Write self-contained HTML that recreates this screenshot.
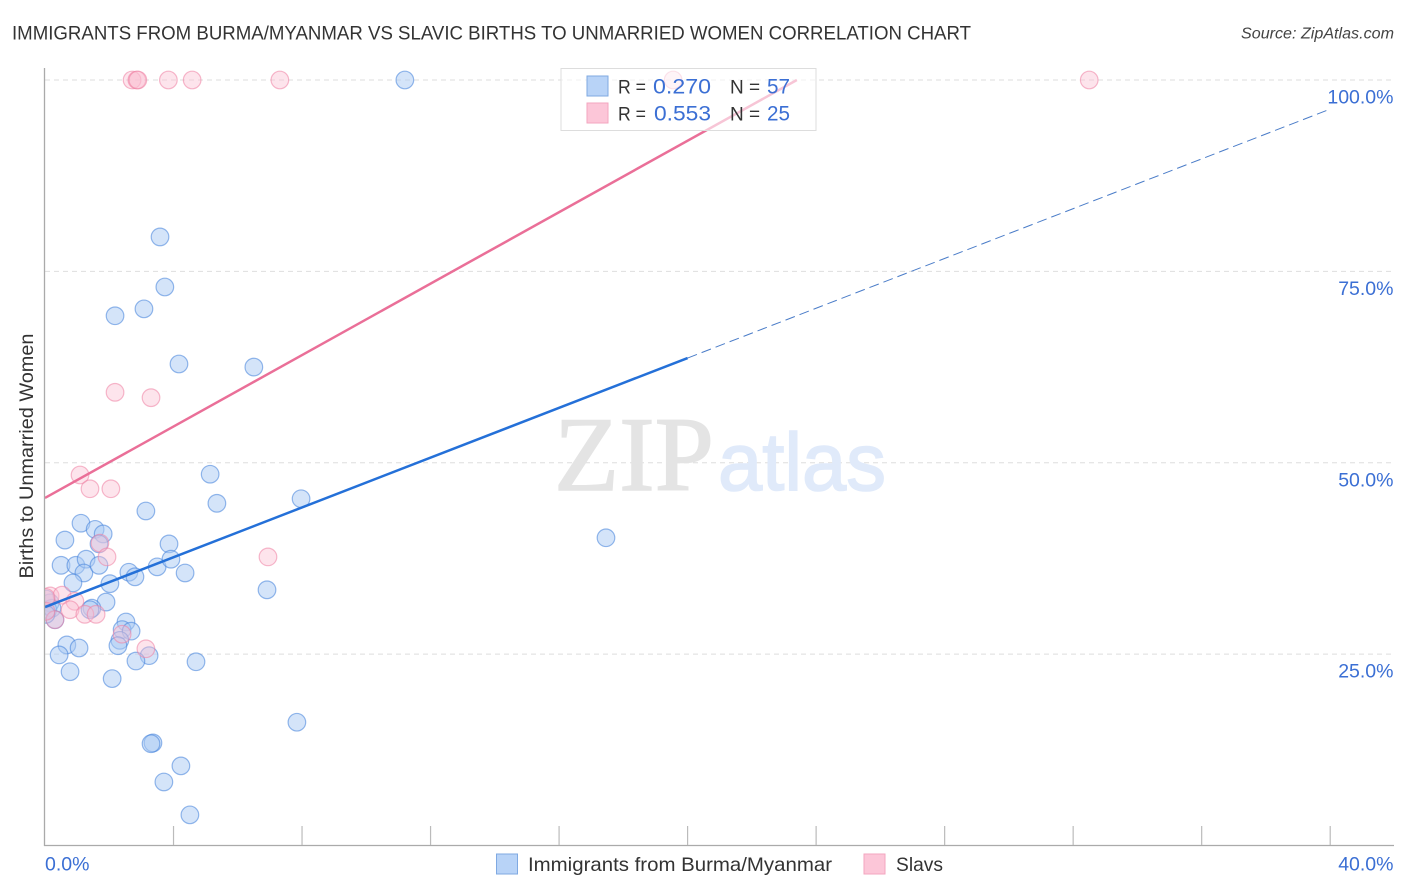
<!DOCTYPE html>
<html>
<head>
<meta charset="utf-8">
<style>
html,body{margin:0;padding:0;background:#fff;}
#wrap{position:relative;width:1406px;height:892px;overflow:hidden;}
svg{display:block;font-family:"Liberation Sans",sans-serif;}
</style>
</head>
<body>
<div id="wrap">
<svg id="chart" width="1406" height="892" viewBox="0 0 1406 892">
  <defs><clipPath id="plot-clip"><rect x="44.5" y="60" width="1350" height="786"/></clipPath></defs>
  <text x="12" y="39.5" font-size="19.5" fill="#333" textLength="959" lengthAdjust="spacingAndGlyphs">IMMIGRANTS FROM BURMA/MYANMAR VS SLAVIC BIRTHS TO UNMARRIED WOMEN CORRELATION CHART</text>
  <text x="1394" y="38.5" font-size="15.5" font-style="italic" fill="#444" text-anchor="end" textLength="153" lengthAdjust="spacingAndGlyphs">Source: ZipAtlas.com</text>
  <g id="grid"></g>
  <g>
    <text x="554" y="490" font-family="'Liberation Serif',serif" font-size="106" fill="#e4e4e4" stroke="#e4e4e4" stroke-width="1.4" textLength="160" lengthAdjust="spacingAndGlyphs">ZIP</text>
    <text x="718" y="490" font-size="82" fill="#e0eafa" stroke="#e0eafa" stroke-width="1.6" textLength="168" lengthAdjust="spacingAndGlyphs">atlas</text>
  </g>
  <g clip-path="url(#plot-clip)">
    <g id="points-blue"></g>
    <g id="points-pink"></g>
  </g>
  <g id="lines"></g>
  <g id="axes"></g>
  <text transform="translate(33,456) rotate(-90)" font-size="19" fill="#333" text-anchor="middle" textLength="245" lengthAdjust="spacingAndGlyphs">Births to Unmarried Women</text>
  <g>
    <rect x="561" y="68.5" width="255" height="62" fill="#fff" fill-opacity="0.6" stroke="#ddd"/>
    <rect x="587" y="76" width="21" height="20" fill="#b8d3f7" stroke="#7fa9e2"/>
    <rect x="587" y="103" width="21" height="20" fill="#fcc6d8" stroke="#f3a6bf"/>
    <text x="618" y="93.5" font-size="19" fill="#333" textLength="28" lengthAdjust="spacingAndGlyphs">R =</text>
    <text x="653" y="93.5" font-size="21" fill="#3b6fd4" textLength="58" lengthAdjust="spacingAndGlyphs">0.270</text>
    <text x="730" y="93.5" font-size="19" fill="#333">N =</text>
    <text x="767" y="93.5" font-size="21" fill="#3b6fd4" textLength="23" lengthAdjust="spacingAndGlyphs">57</text>
    <text x="618" y="120.5" font-size="19" fill="#333" textLength="28" lengthAdjust="spacingAndGlyphs">R =</text>
    <text x="654" y="120.5" font-size="21" fill="#3b6fd4" textLength="57" lengthAdjust="spacingAndGlyphs">0.553</text>
    <text x="730" y="120.5" font-size="19" fill="#333">N =</text>
    <text x="767" y="120.5" font-size="21" fill="#3b6fd4" textLength="23" lengthAdjust="spacingAndGlyphs">25</text>
  </g>
  <g>
    <rect x="496.5" y="854" width="21" height="20" fill="#b8d3f7" stroke="#7fa9e2"/>
    <text x="528" y="871" font-size="19.5" fill="#333" textLength="304" lengthAdjust="spacingAndGlyphs">Immigrants from Burma/Myanmar</text>
    <rect x="864" y="854" width="21" height="20" fill="#fcc6d8" stroke="#f3a6bf"/>
    <text x="896" y="871" font-size="19.5" fill="#333" textLength="47" lengthAdjust="spacingAndGlyphs">Slavs</text>
  </g>
</svg>
</div>
<script>
const blueX = [11.2,3.58,3.73,3.08,2.18,4.17,6.5,5.14,5.35,7.97,3.14,1.12,1.56,1.81,1.68,0.62,3.86,17.46,0.5,0.96,1.28,1.21,1.68,0.87,2.61,2.8,3.49,3.92,4.36,2.02,6.91,1.9,1.46,1.4,0.16,0.09,0.22,0.31,2.52,2.4,2.68,2.33,2.27,0.68,1.06,0.44,3.24,2.83,4.7,0.78,2.09,7.84,3.36,3.3,4.23,3.7,4.51,0.03,0.03];
const blueY = [100,79.5,72.96,70.1,69.2,62.9,62.5,48.5,44.7,45.3,43.7,42.1,41.3,40.7,39.4,39.9,39.4,40.2,36.6,36.6,37.4,35.6,36.6,34.3,35.7,35.1,36.4,37.4,35.6,34.2,33.4,31.8,31.0,30.8,31.7,30.8,31.0,29.5,29.2,28.2,28,26.8,26.1,26.2,25.8,24.9,24.8,24.1,24,22.7,21.8,16.1,13.4,13.3,10.4,8.3,4,32.2,30.2];
const pinkX = [2.71,2.86,2.89,3.84,4.58,7.31,19.55,32.5,2.18,3.3,1.09,1.4,2.05,1.71,1.93,6.94,3.14,2.4,0.16,0.53,0.93,0.78,1.24,1.59,0.31,0.03,0.03];
const pinkY = [100,100,100,100,100,100,100,100,59.2,58.5,48.4,46.6,46.6,39.5,37.7,37.7,25.7,27.6,32.6,32.7,31.9,30.8,30.2,30.2,29.5,32.4,30.6];
const blueLineXs = [0,20,40];
const blueLineYs = [31.15,63.68,96.2];
const pinkLineXs = [0,23.4];
const pinkLineYs = [45.4,100];
const yTicks = [25,50,75,100];
const yTickLabels = ["25.0%","50.0%","75.0%","100.0%"];
const xTicks = [4,8,12,16,20,24,28,32,36,40];
const xEndTicks = [0,40];
const xEndLabels = ["0.0%","40.0%"];

const NS = "http://www.w3.org/2000/svg";
function sx(v){ return 45 + v * 32.13; }
function sy(v){ return 845.5 - v * 7.655; }
function mk(parent, tag, attrs){
  const el = document.createElementNS(NS, tag);
  for (const k in attrs) el.setAttribute(k, attrs[k]);
  document.getElementById(parent).appendChild(el);
  return el;
}

yTicks.forEach(function(v, i){
  const g = mk("grid", "line", {x1:45, x2:1393, y1:sy(v), y2:sy(v), stroke:"#dedede", "stroke-width":1, "stroke-dasharray":"5 4"});
  
  
  const t = mk("axes", "text", {x:1393.5, y:sy(v)+23.5, "font-size":19.5, fill:"#3b6fd4", "text-anchor":"end"});
  t.textContent = yTickLabels[i];
  
  
});

blueX.forEach(function(v, i){
  const c = mk("points-blue", "circle", {cx:sx(v), cy:sy(blueY[i]), r:8.8, fill:"#a9c9f3", "fill-opacity":0.5, stroke:"#3f7fdb", "stroke-opacity":0.55, "stroke-width":1.2});
  
  
});
pinkX.forEach(function(v, i){
  const c = mk("points-pink", "circle", {cx:sx(v), cy:sy(pinkY[i]), r:8.8, fill:"#fbbfd2", "fill-opacity":0.42, stroke:"#ee7fa3", "stroke-opacity":0.55, "stroke-width":1.2});
  
  
});

const pinkTrend = mk("lines", "line", {x1:sx(pinkLineXs[0]), y1:sy(pinkLineYs[0]), x2:sx(pinkLineXs[1]), y2:sy(pinkLineYs[1]), stroke:"#ea6f98", "stroke-width":2.5});


const blueTrend = mk("lines", "line", {x1:sx(blueLineXs[0]), y1:sy(blueLineYs[0]), x2:sx(blueLineXs[1]), y2:sy(blueLineYs[1]), stroke:"#2470d8", "stroke-width":2.5});


const blueDash = mk("lines", "line", {x1:sx(blueLineXs[1]), y1:sy(blueLineYs[1]), x2:sx(blueLineXs[2]), y2:sy(blueLineYs[2]), stroke:"#4a7cc8", "stroke-width":1, "stroke-dasharray":"10 5"});



const yAxis = mk("axes", "line", {x1:44.5, x2:44.5, y1:68, y2:846, stroke:"#aaa", "stroke-width":1.3});


const xAxis = mk("axes", "line", {x1:44, x2:1394, y1:845.5, y2:845.5, stroke:"#aaa", "stroke-width":1.3});


xTicks.forEach(function(v){
  const t = mk("axes", "line", {x1:sx(v), x2:sx(v), y1:826, y2:845, stroke:"#bbb", "stroke-width":1.2});
  
  
});
xEndTicks.forEach(function(v, i){
  const t = mk("axes", "text", {x:i === 0 ? sx(v) : 1393.5, y:870.5, "font-size":19.5, fill:"#3b6fd4", "text-anchor":i === 0 ? "start" : "end"});
  t.textContent = xEndLabels[i];
  
  
});
</script>
</body>
</html>
